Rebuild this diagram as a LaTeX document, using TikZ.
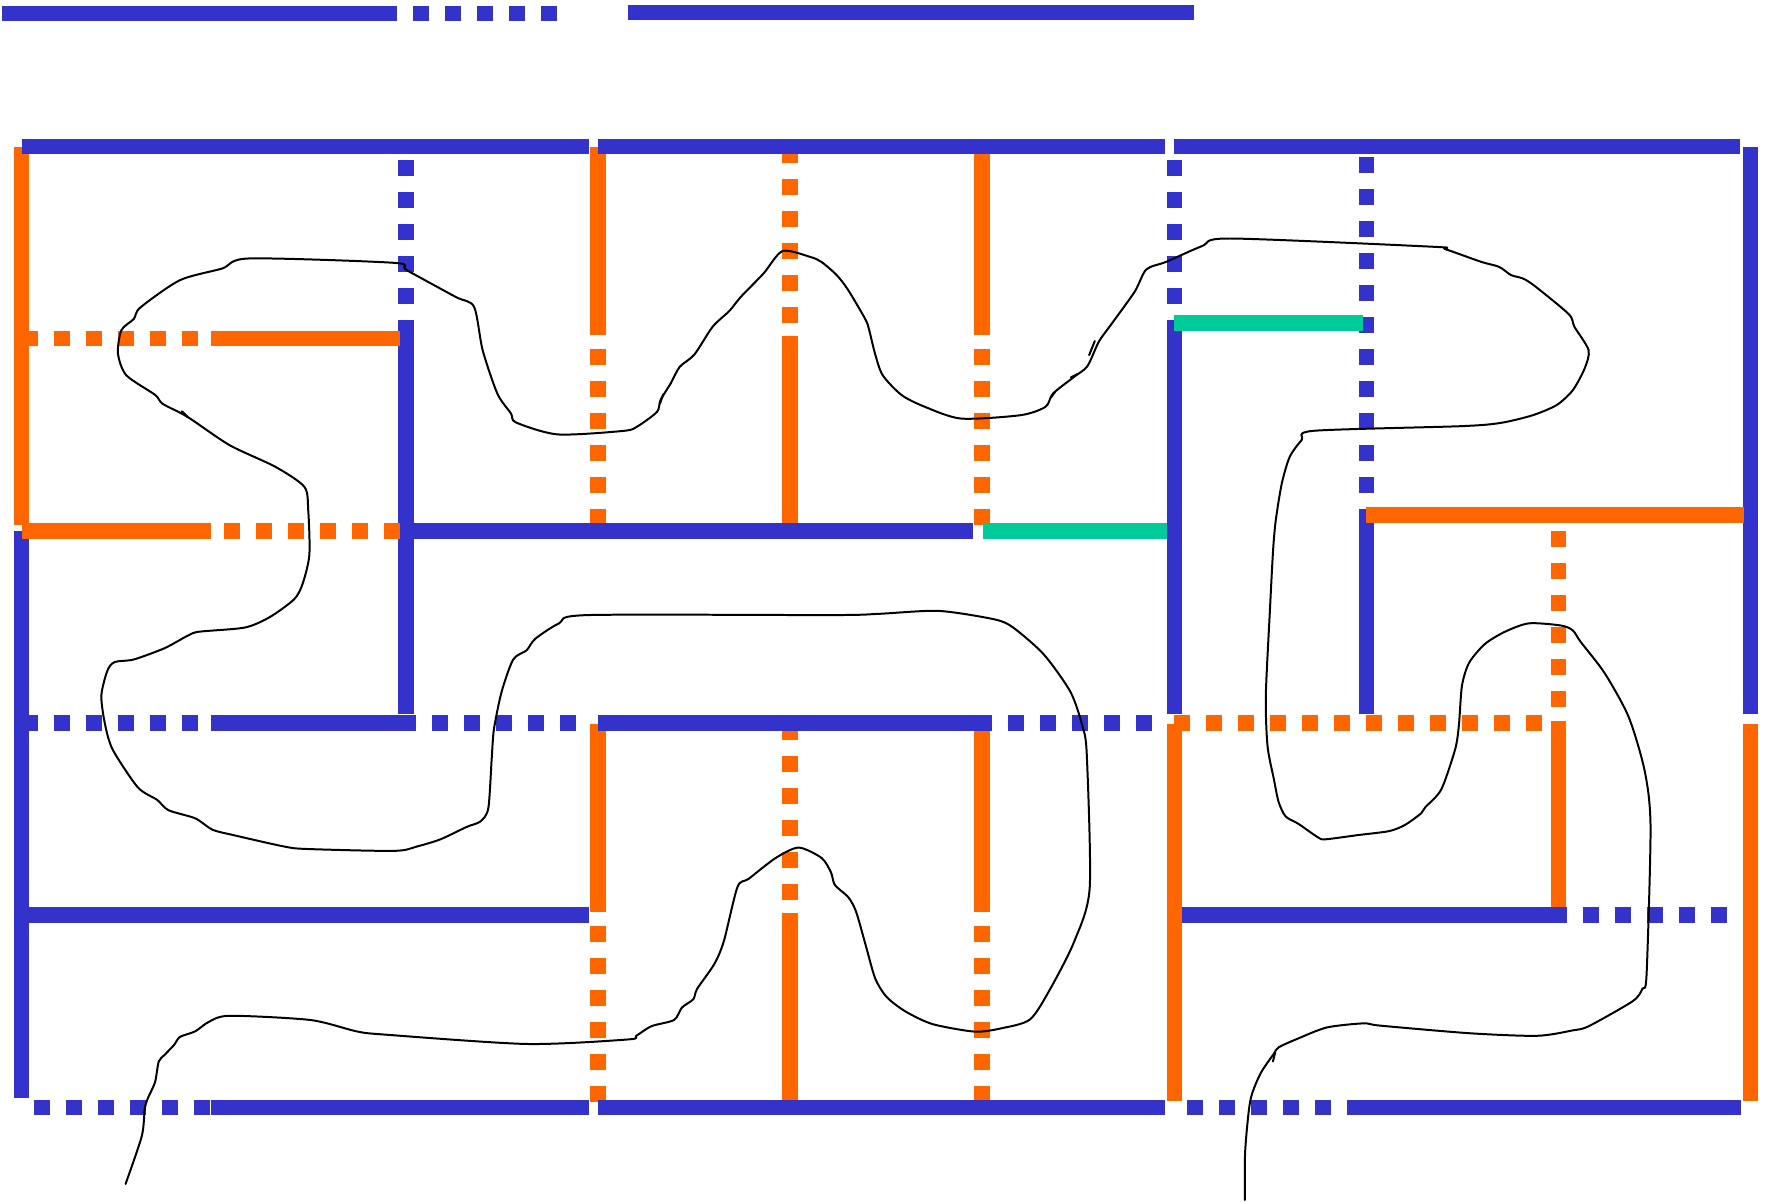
\documentclass[tikz,border=0pt]{standalone}
\usepackage{tikz}

\definecolor{wallblue}{HTML}{3333CC}
\definecolor{wallorange}{HTML}{FF6600}
\definecolor{wallgreen}{HTML}{00CC99}

\begin{document}
\begin{tikzpicture}[x=1.696cm, y=-1.696cm,
    bwall/.style={draw=wallblue, line width=1.352mm},
    owall/.style={draw=wallorange, line width=1.352mm},
    gwall/.style={draw=wallgreen, line width=1.352mm},
    bdash/.style={bwall, dash pattern=on 1.413mm off 1.413mm},
    odash/.style={owall, dash pattern=on 1.413mm off 1.413mm},
    strand/.style={draw=black, line width=0.5pt, line join=round, line cap=round}]

      \useasboundingbox (-0.113,-0.764) rectangle (9.128,5.489);

      % vertical walls
      \begin{scope}
        \draw[owall] (0,0) -- (0,1.967);
        \draw[bwall] (0,2) -- (0,4.952);
        \draw[bdash] (2,0.069) -- ++(0,0.9167);
        \draw[bwall] (2,0.986) -- (2,2.952);
        \foreach \c in {3,5} {
          \draw[owall] (\c,0) -- (\c,0.981);
          \draw[odash] (\c,1.052) -- ++(0,0.9167);
          \draw[owall] (\c,3.006) -- (\c,3.984);
          \draw[odash] (\c,4.055) -- ++(0,0.9167);
        }
        \draw[odash] (4,0) -- ++(0,0.9167);
        \draw[owall] (4,0.986) -- (4,1.96);
        \draw[odash] (4,3.006) -- ++(0,0.9167);
        \draw[owall] (4,3.988) -- (4,4.968);
        \draw[bdash] (6,0.069) -- ++(0,0.9167);
        \draw[bwall] (6,0.986) -- (6,2.952);
        \draw[owall] (6,3.006) -- (6,4.968);
        \draw[bdash] (7,0.052) -- ++(0,1.75);
        \draw[bwall] (7,1.887) -- (7,2.952);
        \draw[odash] (8,2.002) -- ++(0,0.9167);
        \draw[owall] (8,2.987) -- (8,3.966);
        \draw[bwall] (9,0) -- (9,2.952);
        \draw[owall] (9,3.006) -- (9,4.968);
      \end{scope}

      % horizontal walls
      \begin{scope}
        \draw[bwall] (-0.1,-0.692) -- (1.869,-0.692);
        \draw[bdash] (1.869,-0.692) -- ++(0.9167,0);
        \draw[bwall] (3.154,-0.698) -- (6.105,-0.698);

        \draw[bwall] (0,0) -- (2.951,0);
        \draw[bwall] (3.002,0) -- (5.953,0);
        \draw[bwall] (6,0) -- (8.946,0);

        \draw[odash] (0,1) -- ++(0.9167,0);
        \draw[owall] (0.983,1) -- (1.97,1);
        \draw[gwall] (6,0.917) -- (6.981,0.917);

        \draw[owall] (0,2) -- (0.983,2);
        \draw[odash] (1.053,2) -- ++(0.9167,0);
        \draw[bwall] (1.97,2) -- (4.952,2);
        \draw[gwall] (5.006,2) -- (5.96,2);
        \draw[owall] (7,1.917) -- (8.967,1.917);

        \draw[bdash] (0,3) -- ++(0.9167,0);
        \draw[bwall] (0.983,3) -- (1.97,3);
        \draw[bdash] (1.97,3) -- ++(0.9167,0);
        \draw[bwall] (3,3) -- (4.97,3);
        \draw[bdash] (4.97,3) -- ++(0.9167,0);
        \draw[odash] (6,3) -- ++(1.9167,0);

        \draw[bwall] (0,4) -- (2.953,4);
        \draw[bwall] (6.04,4) -- (7.96,4);
        \draw[bdash] (7.96,4) -- ++(0.9167,0);

        \draw[bdash] (0.066,5) -- ++(0.9167,0);
        \draw[bwall] (0.983,5) -- (2.952,5);
        \draw[bwall] (3.002,5) -- (5.953,5);
        \draw[bdash] (6.066,5) -- ++(0.9167,0);
        \draw[bwall] (6.983,5) -- (8.95,5);
      \end{scope}

      % the strand, in picture pixels
      \begin{scope}[shift={(-0.11203,-0.76061)}, x=0.1mm, y=-0.1mm]
        \draw[strand] plot[smooth, tension=0.45] coordinates {
          (110.7,1044.8) (125,1002.7) (127.6,978.9) (130,970) (136.7,955) (140,936.7)
          (145,931) (153.6,922) (158.7,915) (172.3,910) (184,901.8) (202.6,896.3)
          (273.7,900) (314,909.9) (338,912.8) (464.8,921.2) (554.5,917.2) (561.6,914)
          (575,905.5) (595,900) (602,889) (612,881.7) (615.4,872.5) (630.6,850.5)
          (639,830.3) (651,782.6) (661,775.3) (684.7,757) (705,747.8) (725.3,757)
          (733.6,769.8) (737,780.8) (749,791.8) (755.8,804.6) (764.2,834) (772.6,863.3)
          (782.8,879.8) (799.7,892.7) (823.4,903.7) (860.6,910.3) (884.3,907.3)
          (909.6,899.3) (928.2,870.7) (948.5,830.3) (962,783.4) (959.4,665.3)
          (955.3,639.6) (945,610.3) (921.5,577.3) (894.4,553.5) (877.5,546.2)
          (828.5,538.8) (776,541.4) (735.5,542.5) (519,542.5) (493.5,549.8)
          (472.5,563.4) (464.8,573.6) (453,581.7) (442.8,610) (436,643) (434,669)
          (431,713) (424,724.7) (412,729.5) (388.7,740.5) (368.4,746.7) (348,750.7)
          (270,749) (250,746.7) (206,736.8) (187.4,732) (172.3,722) (148.6,714.8)
          (138.5,705.6) (121.5,694.6) (99.5,661.6) (92.7,639.6) (89.3,614) (94.5,592)
          (101,584) (118,581.7) (145,571.8) (165.4,560.8) (175.6,557.2) (216,553.5)
          (238,544.3) (259.5,528.6) (267,515) (273,489.3) (272,450) (268.6,429.3)
          (243,411.6) (202.6,392.5) (165.4,367.5) (143.5,356) (136.7,348) (111.3,330.7)
          (104,311.5) (107,291) (118,281) (123.8,270.9) (158.7,246.8) (196,236.5)
          (220.2,227.6) (348,231.5) (359,238) (402,261.5) (418.4,270.3) (426,308.6)
          (439,347) (451,364.5) (455.6,372.5) (492.5,383) (551,379.8) (563,375.7)
          (580,363) (583,352.7) (592,338) (600,323.3) (613,312.4) (629,288)
          (644,273.8) (654,261.5) (674,240.9) (690.8,221.1) (715,226.2) (725,230.6)
          (738.6,242.3) (748.8,255.6) (764,281.5) (767.3,290.9) (772.4,311.5)
          (779.2,330.7) (796,348.3) (816.4,358.6) (848.5,369) (901,366) (923,358.6)
          (929.6,346.9) (948.3,332.1) (960,322.7) (970,301.2) (980.5,286.5)
          (1001.7,257) (1012,237.3) (1029.6,230.6) (1061.2,216.7) (1086,210)
          (1265.3,217.3) (1276,219.4) (1307.6,230.6) (1323.4,235) (1334,242.3)
          (1344.5,245.3) (1355,252) (1385,276.8) (1390,288) (1402.5,308.6)
          (1399,324.8) (1388.5,344) (1374.4,357) (1353.3,366) (1325,372.8)
          (1290,375.7) (1159.8,379.8) (1149.2,388) (1138.6,402.8) (1131.6,426.3)
          (1126.3,458.7) (1123.9,485.6) (1121,540.6) (1117.5,614) (1119,658)
          (1124.6,687.3) (1128.8,707.5) (1135,720.3) (1146.4,726.9) (1163.3,738.6)
          (1170,740.5) (1198.5,736.8) (1226.6,733.2) (1240.7,727.6) (1254.8,717.4)
          (1258.3,712.2) (1272.4,696.5) (1284.7,660.9) (1288,639.6) (1290.7,604.8)
          (1297,584.6) (1311,568) (1328.7,557.2) (1349.8,549.8) (1378,551.7)
          (1388.5,556) (1395.6,566.3) (1416.7,593.8) (1437.8,632.3) (1452,680)
          (1457.2,729.5) (1453.7,859.7) (1450,872.5) (1441.3,883.5) (1402.6,905.5)
          (1388.5,909.2) (1356.8,914) (1297,911.7) (1218.5,905) (1203.8,903)
          (1171.5,906.6) (1145,916.8) (1128.8,924.2) (1124.4,930.1) (1112.6,947.7)
          (1103.8,971.3) (1099.3,1015.5) (1099,1059)};
        % little barbs on the strand
        \draw[strand] (160.4,362.5) -- (165.4,367.5);
        \draw[strand] (585.5,347.5) -- (582.5,356);
        \draw[strand] (966.5,300.5) -- (961.5,313);
        \draw[strand] (945.4,332.6) -- (951.3,329.6);
        \draw[strand] (931.6,345.3) -- (927.8,350.3);
        \draw[strand] (1125.8,928.6) -- (1123.8,936.6);
      \end{scope}
    \end{tikzpicture}
\end{document}
